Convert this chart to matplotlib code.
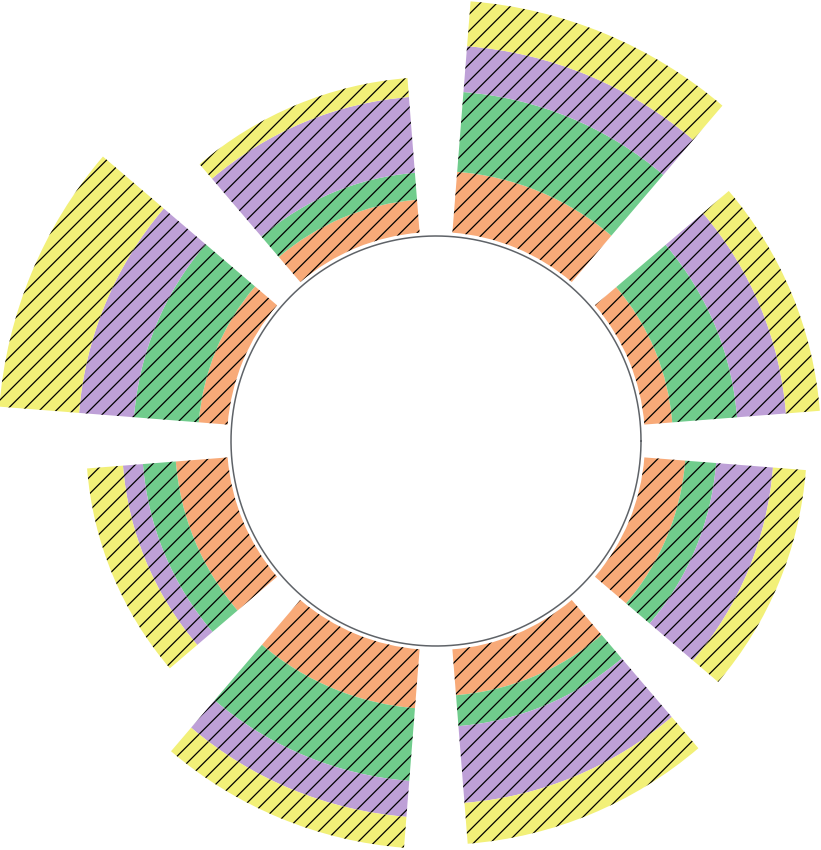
import matplotlib.pyplot as plt
import numpy as np

# données (épaisseur de chaque couche, par secteur)
categories = ['A', 'B', 'C', 'D', 'E', 'F', 'G', 'H']
orange = [2.8, 6.1, 3.3, 2.9, 5.2, 5.9, 4.6, 4.1]
green = [6.5, 8.0, 2.7, 6.5, 3.3, 7.3, 3.1, 3.1]
purple = [4.9, 4.6, 7.6, 5.5, 2.0, 3.6, 7.7, 5.7]
yellow = [3.4, 4.5, 1.9, 8.0, 3.6, 3.1, 4.1, 3.3]

series = [orange, green, purple, yellow]
colors = ['#F8AA78', '#70CC8C', '#BEA0D7', '#F2F078']

hole = 20.9      # rayon de départ des barres
rmax = 44.5

plt.rcParams['hatch.linewidth'] = 0.9
plt.rcParams['hatch.color'] = 'black'

fig = plt.figure(figsize=(8.21, 8.5), dpi=100)
cx, cy, half = 436, 409, 445
ax = fig.add_axes([(cx - half) / 821, (cy - half) / 850, 2 * half / 821, 2 * half / 850],
                  projection='polar')

n = len(categories)
step = 2 * np.pi / n
theta = np.arange(n) * step + step / 2
width = 0.8 * step

bottom = np.full(n, hole)
for vals, col in zip(series, colors):
    ax.bar(theta, vals, width=width, bottom=bottom, color=col,
           edgecolor='black', linewidth=0, hatch='//')
    bottom = bottom + np.array(vals)

# cercle intérieur
t = np.linspace(0, 2 * np.pi, 400)
ax.plot(t, np.full_like(t, 20.5), color='#5f6368', lw=1.1)

ax.set_ylim(0, rmax)
ax.axis('off')

fig.savefig('out.png', dpi=100)
